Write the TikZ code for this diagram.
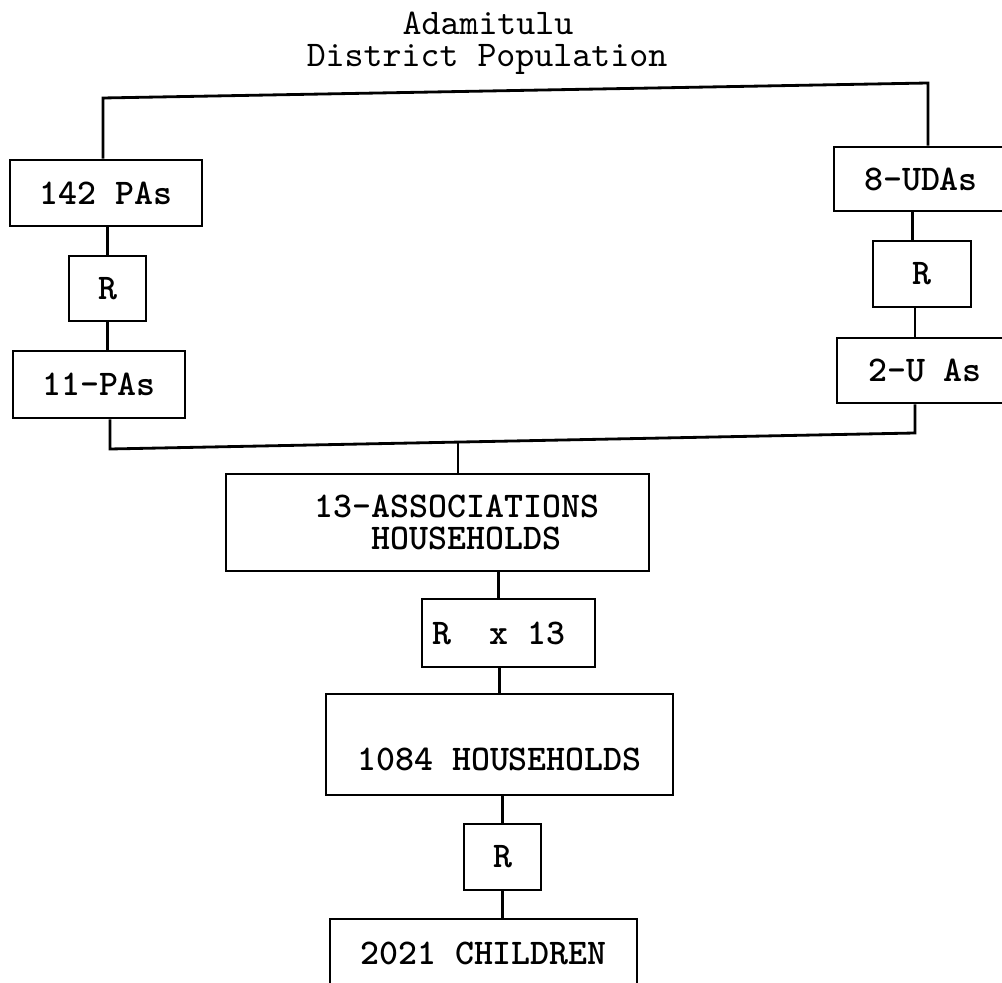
\documentclass[tikz,border=0pt]{standalone}
\usepackage{fontspec}
\newfontfamily\typefont{lmmono10-regular.otf}[BoldFont=lmmonolt10-bold.otf]
\begin{document}
\begin{tikzpicture}[x=0.025cm,y=-0.025cm,line width=2pt,
  box/.style={draw,inner sep=0pt,font=\typefont\bfseries\fontsize{25.7}{23}\selectfont},
  heading/.style={inner sep=0pt,font=\typefont\fontsize{25.7}{22}\selectfont}]
\useasboundingbox (0,0) rectangle (1002,983);
\clip (0,0) rectangle (1002,983);

\node [heading,anchor=base] (town) at (488,35) {Adamitulu};
\node [heading,anchor=base] (pop) at (487,67) {District Population};

\node [box,minimum width=4.8cm,minimum height=1.65cm] (pas) at (106,193) {142 PAs};
\node [box,minimum width=1.925cm,minimum height=1.625cm] (rl) at (107.5,288.5) {R};
\node [box,minimum width=4.3cm,minimum height=1.675cm] (pas11) at (99,384.5) {11-PAs};

\node [box,minimum width=4.35cm,minimum height=1.6cm] (udas) at (921,179) {8-UDAs};
\node [box,minimum width=2.45cm,minimum height=1.65cm] (rr) at (922,274) {R};
\node [box,minimum width=4.4cm,minimum height=1.625cm] (uas) at (925,370.5) {2-U As};

\node [box,minimum width=10.575cm,minimum height=2.425cm,align=left] (assoc) at (437.5,522.5)
  {\hspace*{28pt}13-ASSOCIATIONS\\\hspace*{28pt}\hspace*{1.575em}HOUSEHOLDS};
\node [box,minimum width=4.325cm,minimum height=1.7cm] (rx) at (508.5,633) {R~~x 13\hspace*{14pt}};
\node [box,minimum width=8.675cm,minimum height=2.525cm] (hh) at (499.5,744.5)
  {\raisebox{-10.7pt}[\height][\depth]{1084 HOUSEHOLDS}};
\node [box,minimum width=1.925cm,minimum height=1.65cm] (rb) at (502.5,857) {R};
\node [box,minimum width=7.675cm,minimum height=1.7cm] (kids) at (483.5,953) {2021 CHILDREN};

\coordinate (tl) at (103,98);
\coordinate (tr) at (928,83);
\coordinate (bl) at (110,449);
\coordinate (br) at (915,433);
\coordinate (bm) at (458,442);

\draw (pas.north -| tl) -- (tl) -- (tr) -- (udas.north -| tr);
\draw (rl.north) -- (rl.north |- pas.south);
\draw (rl.south) -- (rl.south |- pas11.north);
\draw ([xshift=-7pt]rr.north) -- ([xshift=-7pt]rr.north |- udas.south);
\draw ([xshift=-5pt]rr.south) -- ([xshift=-5pt]rr.south |- uas.north);

\draw (pas11.south -| bl) -- (bl) -- (br) -- (uas.south -| br);
\draw (bm) -- (bm |- assoc.north);

\draw ([xshift=-7pt]rx.north) -- ([xshift=-7pt]rx.north |- assoc.south);
\draw (hh.north) -- (hh.north |- rx.south);
\draw (rb.north) -- (rb.north |- hh.south);
\draw (rb.south) -- (rb.south |- kids.north);

\end{tikzpicture}
\end{document}
